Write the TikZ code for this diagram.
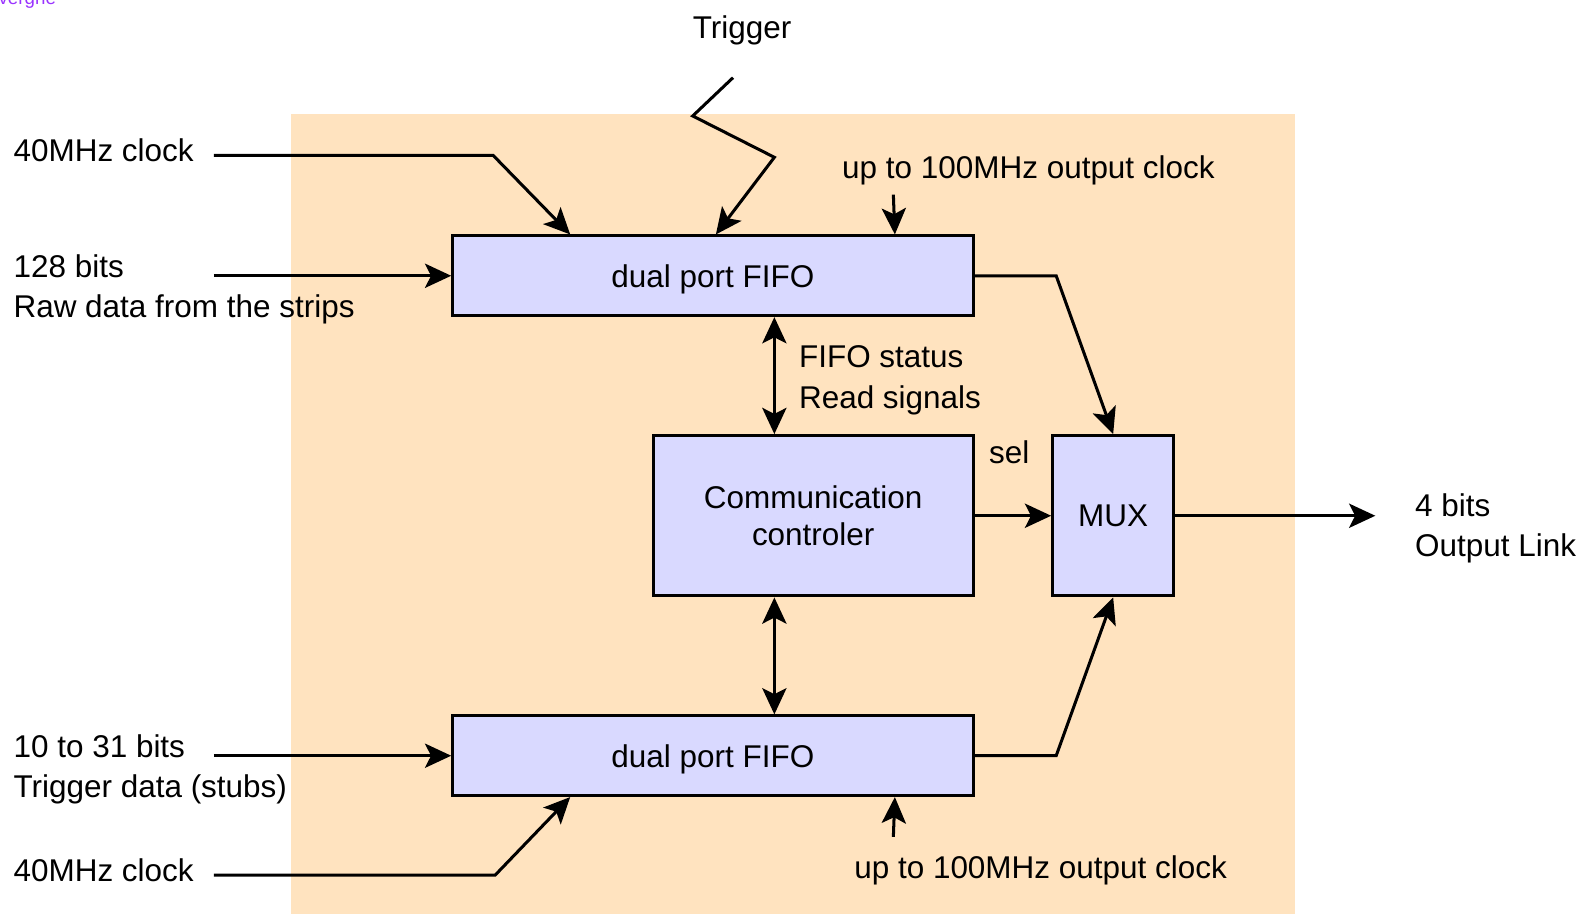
\documentclass[tikz,border=0pt]{standalone}
\usepackage{fontspec}
\setmainfont{Liberation Sans}
\usetikzlibrary{arrows.meta, positioning}
\definecolor{boardbg}{RGB}{255,227,191}
\definecolor{blockfill}{RGB}{217,217,255}
\definecolor{logo}{RGB}{153,51,255}
\tikzset{>={Stealth[length=13pt, width=12pt, inset=3pt]}, % makes the arrow heads bold
every node/.style={font=\fontsize{15.6pt}{20pt}\selectfont, inner sep=0pt}, % text size of the sketch
block/.style={draw, fill=blockfill, align=center}, % the blue boxes
wide/.style={minimum width=258pt, minimum height=39.5pt, text depth=0pt}, % size of a FIFO box
txt/.style={anchor=west, align=left}, % left aligned signal names
}

\begin{document}
\begin{tikzpicture}[x=0.5pt, y=-0.5pt, line width=1.5pt]
  \useasboundingbox (0,0) rectangle (1568,906);
  \fill[boardbg] (289,113) rectangle (1284,906);
  \node[anchor=base east, text=logo, font=\fontsize{9.3pt}{11pt}\selectfont] (lab) at (57,4) {Auvergne};

  \node[block, wide] (fifoA) at (707,273.5) {dual port FIFO};
  \node[block, minimum width=158.5pt, minimum height=79.5pt, font=\fontsize{15.6pt}{18.5pt}\selectfont] (ctrl) at (806.5,511.5) {Communication\\controler};
  \node[block, minimum width=60pt, minimum height=79.5pt] (mux) at (1104,511.5) {MUX};
  \node[block, wide] (fifoB) at (707,749.5) {dual port FIFO};

  \node[txt] (clkA) at (12,149) {40MHz clock};
  \node[txt] (rawA) at (12,287) {128 bits\\Raw data from the strips};
  \node (trig) at (736,30) {Trigger};
  \node (oclkA) at (1020,169) {up to 100MHz output clock};
  \node[txt] (stat) at (791,377) {FIFO status\\Read signals};
  \node (sel) at (1001,449) {sel};
  \node[txt] (outl) at (1402,524) {4 bits\\Output Link};
  \node[txt] (trgd) at (12,763) {10 to 31 bits\\Trigger data (stubs)};
  \node[txt] (clkB) at (12,863) {40MHz clock};
  \node (oclkB) at (1032,863) {up to 100MHz output clock};

  \coordinate (clkAin) at (212,154);
  \coordinate (rawAin) at (212,273.5);
  \coordinate (trigin) at (727,77);
  \coordinate (oclkAin) at (886,193);
  \coordinate (outlink) at (1364,511.5);
  \coordinate (trgdin) at (212,749.5);
  \coordinate (clkBin) at (212,868);
  \coordinate (oclkBin) at (886,830);

  \draw[->] (clkAin) -- ++(277,0) -- ([xshift=59pt]fifoA.north west);
  \draw[->] (rawAin) -- (fifoA.west);
  \draw[->] (trigin) -- ++(-40,38) -- ++(81,41) -- ([xshift=1.5pt]fifoA.north);
  \draw[->] (oclkAin) -- ([xshift=-39.5pt]fifoA.north east);
  \draw[->] (fifoA.east) -- ++(81,0) -- (mux.north);
  \draw[<->] ([xshift=30.5pt]fifoA.south) -- ([xshift=-19.25pt]ctrl.north);
  \draw[->] (ctrl.east) -- (mux.west);
  \draw[->] (mux.east) -- (outlink);
  \draw[<->] ([xshift=-19.25pt]ctrl.south) -- ([xshift=30.5pt]fifoB.north);
  \draw[->] (fifoB.east) -- ++(81,0) -- (mux.south);
  \draw[->] (trgdin) -- (fifoB.west);
  \draw[->] (clkBin) -- ++(279,0) -- ([xshift=59pt]fifoB.south west);
  \draw[->] (oclkBin) -- ([xshift=-39.5pt]fifoB.south east);

\end{tikzpicture}
\end{document}
